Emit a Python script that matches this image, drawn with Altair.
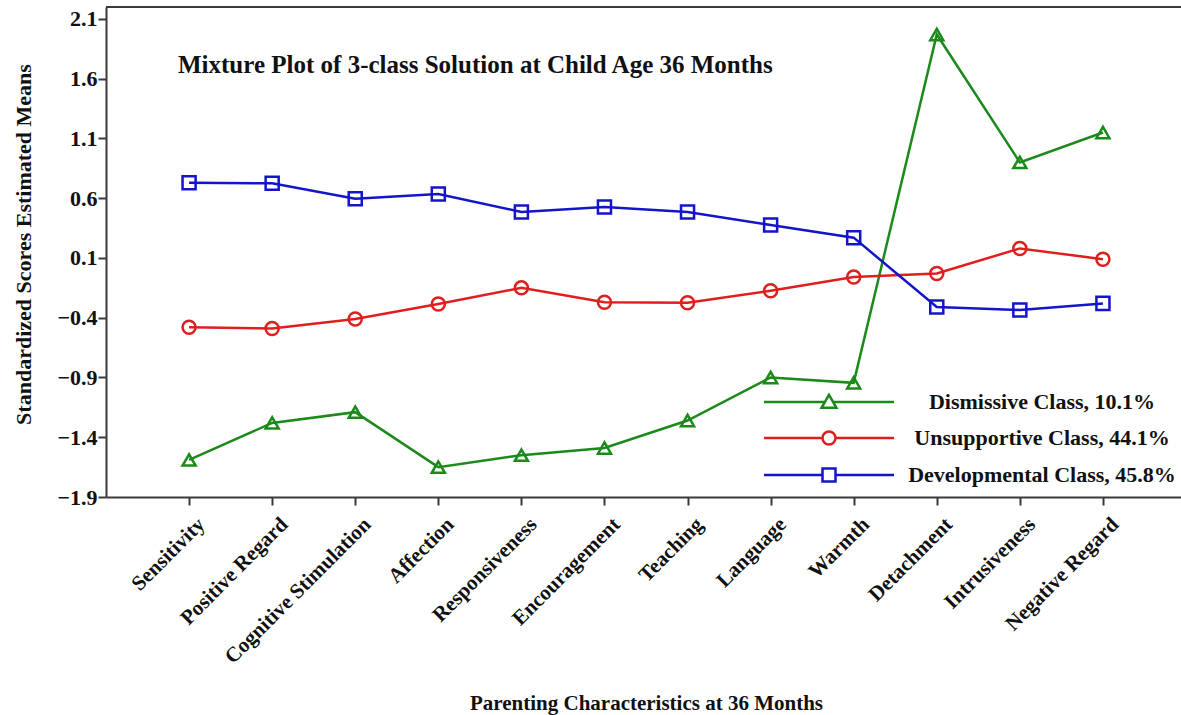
import altair as alt
import pandas as pd

categories = ["Sensitivity", "Positive Regard", "Cognitive Stimulation", "Affection",
              "Responsiveness", "Encouragement", "Teaching", "Language", "Warmth",
              "Detachment", "Intrusiveness", "Negative Regard"]
classes = ["Dismissive Class, 10.1%", "Unsupportive Class, 44.1%", "Developmental Class, 45.8%"]
dismissive = [-1.59, -1.28, -1.19, -1.65, -1.55, -1.49, -1.26, -0.90, -0.945, 1.97, 0.90, 1.15]
unsupportive = [-0.48, -0.49, -0.41, -0.285, -0.15, -0.27, -0.275, -0.175, -0.06, -0.03, 0.18, 0.09]
developmental = [0.73, 0.725, 0.595, 0.635, 0.485, 0.527, 0.485, 0.376, 0.27, -0.31, -0.335, -0.28]
y_ticks = [-1.9, -1.4, -0.9, -0.4, 0.1, 0.6, 1.1, 1.6, 2.1]
colors = ["#1b8a1b", "#e01e1e", "#1414c8"]
shapes = ["triangle-up", "circle", "square"]

rows = []
for cls, vals in zip(classes, [dismissive, unsupportive, developmental]):
    for cat, v in zip(categories, vals):
        rows.append({"category": cat, "cls": cls, "value": v})
df = pd.DataFrame(rows)

FONT = "Liberation Serif"
W, H = 1075, 490

legend_paths = [
    "M-10,0L-0.55,0M0.55,0L10,0M0,-1.1L1.15,0.9L-1.15,0.9Z",
    "M-10,0L-1,0M1,0L10,0M1,0A1,1 0 1,1 -1,0A1,1 0 1,1 1,0Z",
    "M-10,0L-1,0M1,0L10,0M-1,-1L1,-1L1,1L-1,1Z",
]
shape_expr = (f"datum.value === '{classes[0]}' ? '{legend_paths[0]}' : "
              f"(datum.value === '{classes[1]}' ? '{legend_paths[1]}' : '{legend_paths[2]}')")

legend = alt.Legend(orient="none", legendX=712, legendY=384, title=None,
                    labelFont=FONT, labelFontSize=22, labelFontWeight="bold",
                    labelColor="#111111", labelAlign="center",
                    labelOffset=202, labelLimit=400,
                    symbolSize=169, symbolStrokeWidth=2.5,
                    symbolFillColor="transparent",
                    symbolType={"expr": shape_expr},
                    rowPadding=13)

x_enc = alt.X("category:N", sort=categories,
              scale=alt.Scale(type="point", padding=1, range=[0, 1080]),
              axis=alt.Axis(title="Parenting Characteristics at 36 Months",
                            labelAngle=-45, labelAlign="right", labelBaseline="middle",
                            labelPadding=16, labelOffset=12, labelFontSize=21, labelLimit=400,
                            titleY=212, titleBaseline="alphabetic", titleFontSize=21))
y_enc = alt.Y("value:Q",
              scale=alt.Scale(domain=[-1.9, 2.2], nice=False, zero=False),
              axis=alt.Axis(title="Standardized Scores Estimated Means", values=y_ticks,
                            format=".1f", labelFontSize=22, labelPadding=1,
                            titleX=-76, titleY=237, titleAngle=-90,
                            titleBaseline="alphabetic", titleFontSize=22))
color_scale = alt.Scale(domain=classes, range=colors)

lines = alt.Chart(df).mark_line(strokeWidth=2.5).encode(
    x=x_enc, y=y_enc,
    color=alt.Color("cls:N", scale=color_scale, legend=legend),
    detail="cls:N",
)

points = alt.Chart(df).mark_point(filled=False, size=170, strokeWidth=2.5, opacity=1).encode(
    x=x_enc, y=y_enc,
    color=alt.Color("cls:N", scale=color_scale, legend=None),
    shape=alt.Shape("cls:N", scale=alt.Scale(domain=classes, range=shapes), legend=None),
)

top_rule = alt.Chart(df).mark_rule(color="#3a3a3a", strokeWidth=2).encode(
    x=alt.value(0), x2=alt.value(W), y=alt.value(0)
)

chart = alt.layer(lines, points, top_rule).resolve_legend(
    color="independent", shape="independent"
).properties(
    width=W, height=H,
    autosize=alt.AutoSizeParams(type="none"),
    padding={"left": 106, "top": 7, "right": 0, "bottom": 218},
    title=alt.TitleParams(
        text="Mixture Plot of 3-class Solution at Child Age 36 Months",
        anchor="start", frame="group", offset=0, dx=72, dy=92,
        baseline="alphabetic", font=FONT, fontSize=25, fontWeight="bold", color="#111111"),
).configure(
    font=FONT,
).configure_view(
    stroke=None
).configure_axis(
    grid=False,
    domainColor="#3a3a3a", domainWidth=2,
    tickColor="#3a3a3a", tickWidth=2, tickSize=8,
    labelFont=FONT, labelFontWeight="bold", labelColor="#111111",
    titleFont=FONT, titleFontWeight="bold", titleColor="#111111",
)

chart.save("out.html", embed_options={"renderer": "svg", "actions": False})
